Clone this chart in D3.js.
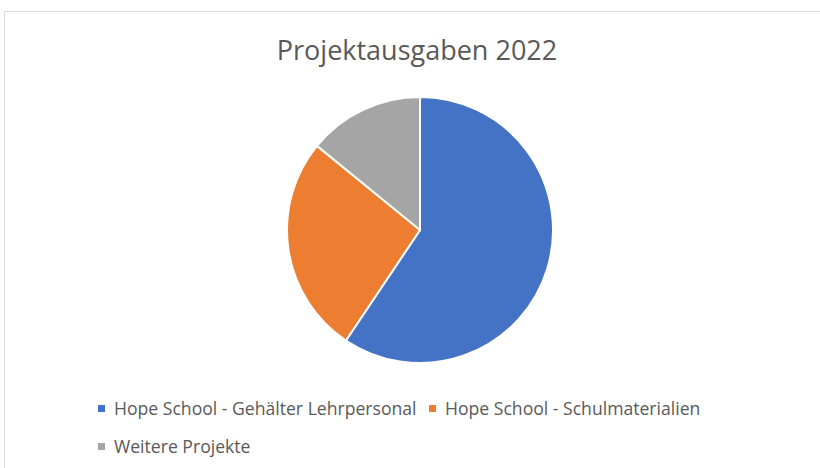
<!DOCTYPE html>
<html>
  <head>
    <meta charset="utf-8">
    <title>Projektausgaben 2022</title>
    <script src="https://d3js.org/d3.v7.min.js"></script>
    <style>
      body { margin: 0; background: #fff; }
      text { font-family: "Open Sans", sans-serif; fill: #595959; }
    </style>
  </head>
  <body>
    <script>
      // ==================
      // Data
      // ==================
      const categories = [
        "Hope School - Gehälter Lehrpersonal",
        "Hope School - Schulmaterialien",
        "Weitere Projekte"
      ];
      const values = [59.4, 26.5, 14.1];
      const colors = ["#4472c4", "#ed7d31", "#a5a5a5"];
      const title = "Projektausgaben 2022";

      const width = 820;
      const height = 468;

      const svg = d3.select("body")
        .append("svg")
          .attr("width", width)
          .attr("height", height);

      // chart frame
      svg.append("rect")
        .attr("x", 4.5)
        .attr("y", 11.5)
        .attr("width", width)
        .attr("height", height)
        .attr("fill", "none")
        .attr("stroke", "#d9d9d9");

      svg.append("text")
        .attr("x", 417)
        .attr("y", 60)
        .attr("text-anchor", "middle")
        .style("font-size", "27px")
        .text(title);

      // ==================
      // Pie
      // ==================
      const pie = d3.pie().sort(null).value(function(d) { return d; });
      const arc = d3.arc().innerRadius(0).outerRadius(133);

      const group = svg.append("g")
        .attr("transform", "translate(" + 420 + "," + 230 + ")");

      pie(values).forEach(function(d, i) {
        group.append("path")
          .attr("d", arc(d))
          .attr("fill", colors[i])
          .attr("stroke", "#fff")
          .attr("stroke-width", 2);
      });

      // ==================
      // Legend
      // ==================
      const legendPos = [[98, 408.5], [429, 408.5], [98, 446.5]];

      categories.forEach(function(c, i) {
        const g = svg.append("g")
          .attr("transform", "translate(" + legendPos[i][0] + "," + legendPos[i][1] + ")");
        g.append("rect")
          .attr("x", 0)
          .attr("y", -3.5)
          .attr("width", 7)
          .attr("height", 7)
          .attr("fill", colors[i]);
        g.append("text")
          .attr("x", 16)
          .attr("y", 6)
          .style("font-size", "17.6px")
          .text(c);
      });
    </script>
  </body>
</html>
